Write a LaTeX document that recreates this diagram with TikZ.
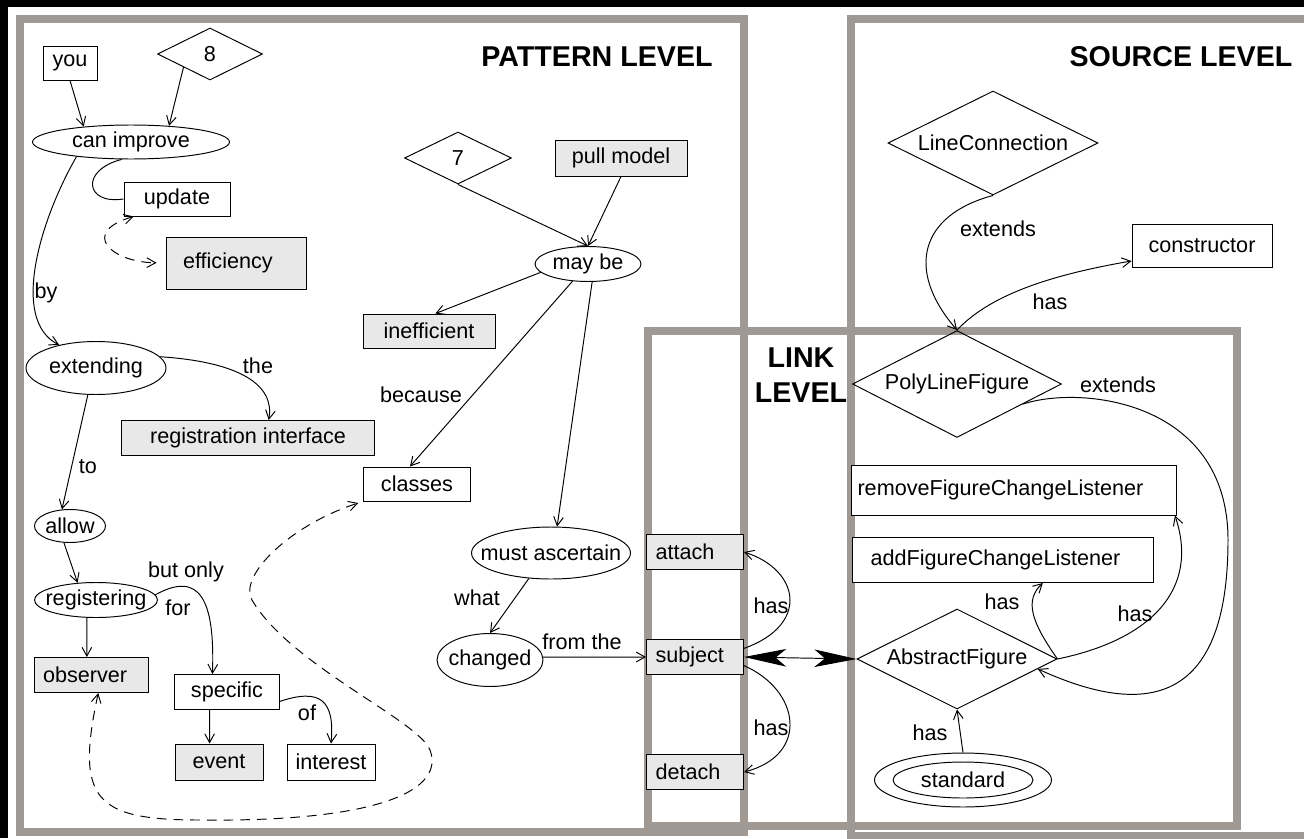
\documentclass[tikz,border=0pt]{standalone}
\usepackage{fontspec}
\setmainfont{Liberation Sans}
\usetikzlibrary{shapes.geometric,arrows.meta}
\definecolor{framegray}{RGB}{160,152,146}
\definecolor{boxgray}{RGB}{232,232,232}
\tikzset{
  every node/.style={font=\fontsize{12.3}{14}\selectfont, inner sep=0pt},
  box/.style={draw, rectangle, fill=white},
  gbox/.style={box, fill=boxgray},
  lbox/.style={gbox, align=left, text width=1.58cm, inner xsep=0.18cm, minimum height=0.7cm},
  oval/.style={draw, ellipse, fill=white, inner xsep=-0.3cm},
  dia/.style={draw, diamond, shape aspect=2},
  title/.style={font=\fontsize{16.3}{20}\selectfont\bfseries},
  lvlframe/.style={draw=framegray, line width=4.55pt},
  dconn/.style={<->, dash pattern=on 5.5pt off 4pt},
  bigarr/.style={{Stealth[length=24pt,width=10pt,inset=6pt]}-{Stealth[length=24pt,width=10pt,inset=6pt]}}
}
\begin{document}
\begin{tikzpicture}[x=0.02cm,y=-0.02cm,line width=0.55pt,>={Straight Barb[length=5pt,width=5.5pt]}]
\useasboundingbox (0,0) rectangle (1304,838);
\fill[black] (0,0) rectangle (1304,838);
\fill[white] (8,7) rectangle (1304,838);
\draw[lvlframe] (20,19) rectangle (744,832);
\draw[lvlframe] (1304,19) -- (851,19) -- (851,836) -- (1304,836);
\draw[lvlframe] (648,331) rectangle (1237,826);

\node[title] (pat) at (597,57) {PATTERN LEVEL};
\node[title] (src) at (1181,57) {SOURCE LEVEL};
\node[title, align=center] (lnk) at (801,375) {LINK\\LEVEL};

\node[box, minimum width=1.08cm, minimum height=0.68cm] (you) at (70,63) {you};
\node[dia, minimum width=2.1cm, minimum height=1.04cm] (eight) at (210,54) {8};
\node[oval, minimum width=3.94cm, minimum height=0.68cm] (canimp) at (131,142) {can improve};
\node[box, minimum width=2.12cm, minimum height=0.68cm] (update) at (177,199) {update};
\node[gbox, align=left, text width=2.12cm, inner xsep=0.34cm, minimum height=1.04cm] (effic) at (236,263) {efficiency};
\node[oval, minimum width=2.8cm, minimum height=1.06cm] (extend) at (96,368) {extending};
\node[gbox, minimum width=5.06cm, minimum height=0.7cm] (regif) at (248,438) {registration interface};
\node[oval, minimum width=1.42cm, minimum height=0.66cm] (allow) at (70,526) {allow};
\node[oval, minimum width=2.46cm, minimum height=0.7cm] (register) at (96,600) {registering};
\node[gbox, align=left, text width=1.92cm, inner xsep=0.18cm, minimum height=0.7cm] (observer) at (91,675) {observer};
\node[box, minimum width=2.1cm, minimum height=0.7cm] (specific) at (227,692) {specific};
\node[gbox, minimum width=1.76cm, minimum height=0.72cm] (event) at (219,762) {event};
\node[box, minimum width=1.76cm, minimum height=0.72cm] (interest) at (331,762) {interest};
\node[box, minimum width=2.14cm, minimum height=0.68cm] (classes) at (417,484) {classes};
\node[dia, minimum width=2.14cm, minimum height=1.04cm] (seven) at (458,158) {7};
\node[gbox, minimum width=2.64cm, minimum height=0.72cm] (pull) at (621,158) {pull model};
\node[oval, minimum width=2.12cm, minimum height=0.7cm] (maybe) at (588,264) {may be};
\node[gbox, minimum width=2.64cm, minimum height=0.68cm] (ineff) at (429,331) {inefficient};
\node[oval, minimum width=3.18cm, minimum height=1.04cm] (must) at (551,553) {must ascertain};
\node[oval, minimum width=2.12cm, minimum height=1.06cm] (changed) at (490,660) {changed};
\node[lbox] (attach) at (695,552) {attach};
\node[lbox] (subject) at (695,657) {subject};
\node[lbox] (detach) at (695,772) {detach};
\node[dia, minimum width=4.2cm, minimum height=2.08cm] (lc) at (993,143) {LineConnection};
\node[box, minimum width=2.8cm, minimum height=0.86cm] (ctor) at (1202,246) {constructor};
\node[dia, minimum width=4.18cm, minimum height=2.14cm] (plf) at (957,384) {PolyLineFigure};
\node[box, align=left, text width=6.26cm, inner xsep=0.12cm, minimum height=1cm] (remove) at (1014,490) {removeFigureChangeListener};
\node[box, align=left, text width=5.3cm, inner xsep=0.36cm, minimum height=0.9cm] (add) at (1003,560) {addFigureChangeListener};
\node[dia, minimum width=4cm, minimum height=2cm] (af) at (957,659) {AbstractFigure};
\node[oval, minimum width=3.54cm, minimum height=1.08cm] (stdout) at (963,780) {};
\node[oval, minimum width=2.8cm, minimum height=0.72cm] (std) at (963,780) {standard};

\node (l-by) at (46,293) {by};
\node (l-the) at (258,366) {the};
\node (l-to) at (88,467) {to};
\node (l-butonly) at (186,572) {but only};
\node (l-for) at (178,608) {for};
\node (l-of) at (307,713) {of};
\node (l-because) at (421,395) {because};
\node (l-what) at (477,598) {what};
\node (l-fromthe) at (582,642) {from the};
\node (l-hasatt) at (771,606) {has};
\node (l-hasdet) at (771,728) {has};
\node (l-extlc) at (998,229) {extends};
\node (l-hasctor) at (1050,302) {has};
\node (l-extplf) at (1118,385) {extends};
\node (l-hasadd) at (1002,602) {has};
\node (l-hasrem) at (1135,614) {has};
\node (l-hasstd) at (930,733) {has};

\draw[->] (you.south) -- (canimp.162);
\draw[->] (eight.south west) -- (canimp.23);
\draw (canimp.-118) .. controls (80,170) and (85,205) .. (update.west);
\draw[dconn, shorten >=0.18cm] (update.-158) .. controls (80,232) and (110,262) .. (effic.west);
\draw[->] (canimp.-165) .. controls (40,220) and (10,320) .. (extend.148);
\draw[->] (extend.10) .. controls (240,362) and (275,385) .. (regif.41);
\draw[->] (extend.-107) -- (allow.116);
\draw[->] (allow.-110) -- (register.137);
\draw[->] (register.-117) -- (observer.103);
\draw[->] (register.5) .. controls (200,570) and (215,600) .. (specific.129);
\draw[->] (specific.-134) -- (event.117);
\draw[->] (specific.-10) .. controls (320,688) and (335,700) .. (interest.north);
\draw[dconn, shorten >=0.1cm] (observer.-68) .. controls (75,800) and (95,820) .. (200,820)
  .. controls (380,822) and (445,790) .. (430,750)
  .. controls (418,720) and (290,665) .. (252,600)
  .. controls (238,576) and (290,525) .. (classes.south west);
\draw[->] (seven.south) -- (maybe.north);
\draw[->] (pull.south) -- (maybe.north);
\draw[->] (maybe.190) -- (ineff.70);
\draw[->] (maybe.-132) -- (classes.112);
\draw[->] (maybe.-77) -- (must.77);
\draw[->] (must.-131) -- (changed.north);
\draw[->] (changed.3) -- (subject.west);
\draw[->] (subject.10) .. controls (810,625) and (800,570) .. (attach.east);
\draw[->] (subject.-10) .. controls (800,690) and (810,755) .. (detach.east);
\draw[bigarr] (subject.east) -- (af.west);
\draw[->] (lc.south) .. controls (920,215) and (905,270) .. (plf.north);
\draw[->] (plf.north) .. controls (990,295) and (1050,275) .. (ctor.192);
\draw[->] (plf.-17) .. controls (1080,385) and (1228,400) .. (1228,540)
  .. controls (1228,690) and (1160,725) .. (af.-7);
\draw[->] (af.east) .. controls (1030,620) and (1025,600) .. (add.-30);
\draw[->] (af.east) .. controls (1150,640) and (1200,590) .. (remove.-9.3);
\draw[->] (stdout.north) -- (af.south);
\end{tikzpicture}
\end{document}
